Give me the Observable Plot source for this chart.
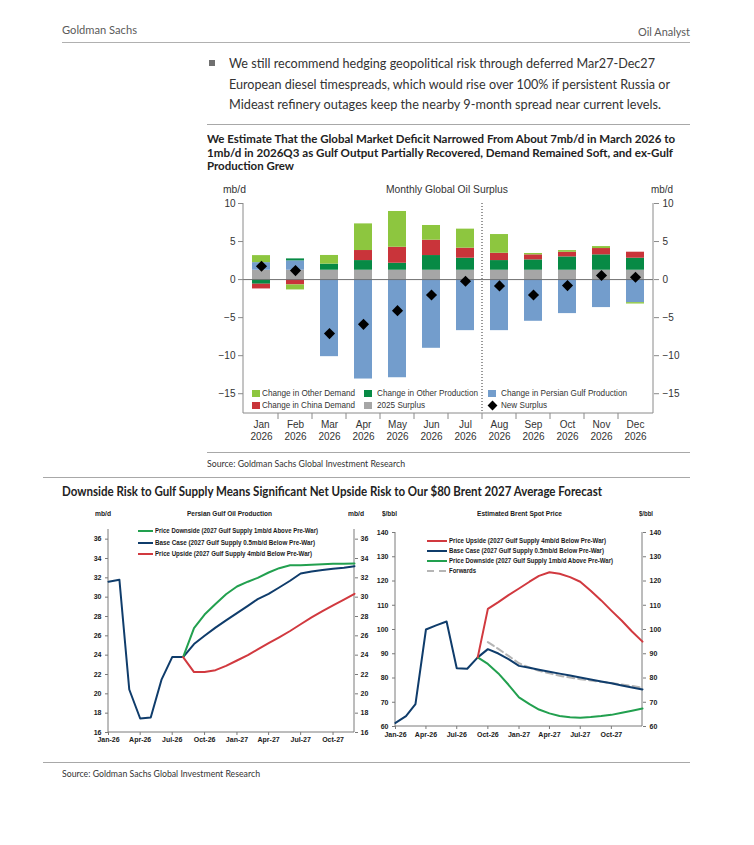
<!DOCTYPE html>
<html><head><meta charset="utf-8">
<script src="https://cdn.jsdelivr.net/npm/d3@7"></script>
<script src="https://cdn.jsdelivr.net/npm/@observablehq/plot@0.6"></script>
<style>
html,body{margin:0;padding:0;background:#fff;}
#page{position:relative;width:754px;height:845px;overflow:hidden;background:#fff;}
#page svg{position:absolute;overflow:visible;}
.hl{position:absolute;height:0;}
</style></head>
<body><div id="page"></div>
<script>
// ---------- Top chart: Monthly Global Oil Surplus (mb/d) ----------
const months = ["Jan 2026","Feb 2026","Mar 2026","Apr 2026","May 2026","Jun 2026","Jul 2026","Aug 2026","Sep 2026","Oct 2026","Nov 2026","Dec 2026"];
const seriesNames = ["2025 Surplus","Change in Persian Gulf Production","Change in Other Production","Change in China Demand","Change in Other Demand"];
const seriesColors = ["#a6a6a6","#739dcc","#078a45","#c9343a","#8dc63f"];
const surplus2025 = [1.23,1.23,1.23,1.23,1.23,1.23,1.23,1.23,1.23,1.23,1.23,1.23];
const gulfProd    = [1.0,1.23,-10.13,-13.07,-12.9,-9.03,-6.71,-6.71,-5.48,-4.47,-3.68,-3.03];
const otherProd   = [-0.61,0.26,0.8,1.27,0.92,1.93,1.58,1.27,1.36,1.75,2.02,1.58];
const chinaDemand = [-0.62,-0.7,0,1.32,2.1,2.02,1.32,0.96,0.66,0.61,0.83,0.79];
const otherDemand = [0.92,-0.66,1.14,3.5,4.7,1.93,2.5,2.46,0.18,0.22,0.26,-0.18];
const newSurplus  = [1.75,1.18,-7.1,-5.88,-4.08,-2.02,-0.22,-0.83,-2.02,-0.79,0.53,0.31];
const topTicks = [-15,-10,-5,0,5,10];
const dividerAfter = "Jul 2026";

// ---------- Bottom left: Persian Gulf Oil Production (mb/d), Jan-26 .. Dec-27 ----------
const gulfBase     = [31.6,31.8,20.45,17.45,17.55,21.5,23.8,23.8,25.15,26.0,26.85,27.6,28.35,29.1,29.8,30.35,31.0,31.7,32.45,32.65,32.8,32.95,33.05,33.2];
const gulfDownside = [null,null,null,null,null,null,null,23.8,26.8,28.2,29.3,30.3,31.1,31.6,32.0,32.55,33.0,33.3,33.3,33.35,33.4,33.45,33.45,33.48];
const gulfUpside   = [null,null,null,null,null,null,null,23.8,22.25,22.25,22.45,22.9,23.45,24.0,24.6,25.25,25.85,26.5,27.2,27.9,28.55,29.15,29.75,30.35];
const gulfTicks = [16,18,20,22,24,26,28,30,32,34,36];

// ---------- Bottom right: Estimated Brent Spot Price ($/bbl), Jan-26 .. Jan-28 ----------
const brentBase     = [61.5,64.3,69.2,100.0,101.7,103.3,84.0,83.8,88.5,91.9,90.1,87.8,85.0,84.2,83.4,82.6,81.8,81.0,80.2,79.4,78.6,77.8,76.9,76.1,75.3];
const brentUpside   = [null,null,null,null,null,null,null,null,88.5,108.5,111.3,114.2,116.9,119.7,122.1,123.6,123.0,121.6,119.7,116.0,112.0,107.8,103.6,99.2,95.0];
const brentDownside = [null,null,null,null,null,null,null,null,88.5,85.8,81.9,77.2,72.0,69.2,67.0,65.4,64.3,63.8,63.6,63.9,64.3,64.8,65.7,66.5,67.4];
const brentForwards = [null,null,null,null,null,null,null,null,null,94.8,92.0,89.1,86.1,84.3,83.0,81.9,80.9,80.2,79.5,79.0,78.4,77.9,77.3,76.7,76.0];
const brentTicks = [60,70,80,90,100,110,120,130,140];

const NAVY = "#0f3c6b", GREEN = "#22a04f", RED = "#d1393f", FWD = "#b5b5b5";

const page = document.getElementById("page");
const LAT = "Lato, 'Open Sans', sans-serif";
const ARI = "'Liberation Sans', Arial, sans-serif";

function place(text, x, y, w, o = {}) {
  const size = o.size || 12;
  const d = document.createElement("div");
  d.textContent = text;
  Object.assign(d.style, {
    position: "absolute", whiteSpace: "nowrap", left: x + "px", top: (y - size * 0.5) + "px",
    fontSize: size + "px", lineHeight: size + "px", fontWeight: o.weight || 400,
    color: o.color || "#333", fontFamily: o.family || LAT, transformOrigin: "0 50%"
  });
  page.appendChild(d);
  if (w) {
    const nw = d.getBoundingClientRect().width;
    if (nw > 0) d.style.transform = `scaleX(${w / nw})`;
  }
  return d;
}
function hline(x1, x2, y, color, wdt) {
  const d = document.createElement("div");
  d.className = "hl";
  Object.assign(d.style, {left: x1 + "px", width: (x2 - x1) + "px", top: (y - wdt / 2) + "px", borderTop: `${wdt}px solid ${color}`});
  page.appendChild(d);
}
function box(x, y, w, h, color, rot) {
  const d = document.createElement("div");
  Object.assign(d.style, {position: "absolute", left: x + "px", top: y + "px", width: w + "px", height: h + "px", background: color});
  if (rot) d.style.transform = `rotate(${rot}deg)`;
  page.appendChild(d);
}
function lineSample(x1, x2, y, color, dash) {
  const s = d3.create("svg").attr("width", x2 - x1).attr("height", 4)
    .style("left", x1 + "px").style("top", (y - 2) + "px");
  s.append("line").attr("x1", 0).attr("x2", x2 - x1).attr("y1", 2).attr("y2", 2)
    .attr("stroke", color).attr("stroke-width", 2).attr("stroke-dasharray", dash || null);
  page.appendChild(s.node());
}

// ---------- Header ----------
place("Goldman Sachs", 62, 30, 75, {size: 11.5, color: "#5a5a5a"});
place("Oil Analyst", 638, 32, 52, {size: 11.5, color: "#5a5a5a"});
hline(62, 690, 43, "#b0b0b0", 1.5);
box(209, 60, 6, 6, "#707070");
place("We still recommend hedging geopolitical risk through deferred Mar27-Dec27", 229, 63, 426, {size: 13, color: "#333"});
place("European diesel timespreads, which would rise over 100% if persistent Russia or", 229, 84, 441, {size: 13, color: "#333"});
place("Mideast refinery outages keep the nearby 9-month spread near current levels.", 229, 104, 432, {size: 13, color: "#333"});

// ---------- Top chart title ----------
hline(207, 690, 125, "#a8a8a8", 1.5);
place("We Estimate That the Global Market Deficit Narrowed From About 7mb/d in March 2026 to", 207, 139, 468, {size: 12, weight: 700, color: "#222"});
place("1mb/d in 2026Q3 as Gulf Output Partially Recovered, Demand Remained Soft, and ex-Gulf", 207, 152.5, 466, {size: 12, weight: 700, color: "#222"});
place("Production Grew", 207, 166, 87, {size: 12, weight: 700, color: "#222"});
place("mb/d", 223, 190, 23, {size: 10, family: ARI, color: "#333"});
place("Monthly Global Oil Surplus", 386, 190, 122, {size: 10.3, family: ARI, color: "#333"});
place("mb/d", 651, 190, 22, {size: 10, family: ARI, color: "#333"});

// ---------- Top chart ----------
const rows = [];
[surplus2025, gulfProd, otherProd, chinaDemand, otherDemand].forEach((arr, s) =>
  arr.forEach((v, i) => rows.push({month: months[i], series: seriesNames[s], value: v})));
const dots = months.map((m, i) => ({month: m, v: newSurplus[i]}));

function topFrame(index, scales, values, dims) {
  const {width, height, marginLeft: l, marginRight: r, marginTop: t, marginBottom: b} = dims;
  const x = scales.x;
  const bw = x.bandwidth ? x.bandwidth() : 0;
  const step = x.step ? x.step() : (x(months[1]) - x(months[0]));
  const g = d3.create("svg:g").attr("fill", "none");
  g.append("path").attr("stroke", "#8a8a8a").attr("d", `M${l},${t}V${height - b}H${width - r}V${t}`);
  months.slice(0, -1).forEach(m => {
    const xb = x(m) + bw / 2 + step / 2;
    g.append("line").attr("x1", xb).attr("x2", xb).attr("y1", height - b).attr("y2", height - b + 6).attr("stroke", "#8a8a8a");
  });
  const xd = x(dividerAfter) + bw / 2 + step / 2;
  g.append("line").attr("x1", xd).attr("x2", xd).attr("y1", t).attr("y2", height - b)
    .attr("stroke", "#333").attr("stroke-dasharray", "1,2");
  return g.node();
}

const topPlot = Plot.plot({
  width: 490, height: 250, marginLeft: 43, marginRight: 37, marginTop: 8, marginBottom: 32,
  style: {fontFamily: ARI, fontSize: "10px", color: "#333", background: "transparent", overflow: "visible"},
  x: {domain: months, paddingInner: 0.46, paddingOuter: 0.23, axis: null},
  y: {domain: [-17.6, 10], axis: null},
  color: {domain: seriesNames, range: seriesColors},
  marks: [
    Plot.barY(rows, {x: "month", y: "value", fill: "series"}),
    Plot.ruleY([0], {stroke: "#707070", strokeWidth: 1}),
    Plot.dot(dots, {x: "month", y: "v", symbol: "diamond2", r: 5, fill: "#000", stroke: "none"}),
    Plot.axisY({anchor: "left", ticks: topTicks, tickSize: 5, tickPadding: 3, label: null, stroke: "#8a8a8a", fill: "#333"}),
    Plot.axisY({anchor: "right", ticks: topTicks, tickSize: 5, tickPadding: 4, label: null, stroke: "#8a8a8a", fill: "#333"}),
    Plot.text(months, {x: d => d, frameAnchor: "bottom", text: d => d.replace(" ", "\n"), lineAnchor: "top", dy: 6, lineHeight: 1.2, fontSize: 10, fill: "#333"}),
    topFrame
  ]
});
topPlot.style.left = "200px"; topPlot.style.top = "195px";
page.appendChild(topPlot);

// legend for top chart
const lg = [
  [252, 393, 4, "Change in Other Demand", 262, 93],
  [364, 393, 2, "Change in Other Production", 377, 101],
  [488, 393, 1, "Change in Persian Gulf Production", 501, 126],
  [252, 405, 3, "Change in China Demand", 262, 93],
  [364, 405, 0, "2025 Surplus", 377, 48]
];
lg.forEach(([sx, y, ci, label, tx, tw]) => {
  box(sx, y - 3.5, 8, 7, seriesColors[ci]);
  place(label, tx, y, tw, {size: 8.6, family: ARI, color: "#333"});
});
box(488.5, 401.5, 7, 7, "#000", 45);
place("New Surplus", 501, 405, 46, {size: 8.6, family: ARI, color: "#333"});

hline(207, 690, 453, "#a8a8a8", 1.5);
place("Source: Goldman Sachs Global Investment Research", 207, 463, 198, {size: 9, color: "#333"});

// ---------- Bottom section ----------
hline(43, 690, 478, "#a8a8a8", 1.5);
place("Downside Risk to Gulf Supply Means Significant Net Upside Risk to Our $80 Brent 2027 Average Forecast", 62, 492, 540, {size: 12.5, weight: 700, color: "#222"});

const B = {size: 6.8, weight: 700, family: ARI, color: "#1a1a1a"};
place("mb/d", 95, 514, 16, B);
place("Persian Gulf Oil Production", 187, 514, 85, B);
place("mb/d", 348, 514, 16, B);
place("$/bbl", 382, 514, 15, B);
place("Estimated Brent Spot Price", 477, 514, 85, B);
place("$/bbl", 639, 514, 14, B);

function simpleFrame(index, scales, values, dims) {
  const {width, height, marginLeft: l, marginRight: r, marginTop: t, marginBottom: b} = dims;
  return d3.create("svg:path").attr("fill", "none").attr("stroke", "#7a7a7a")
    .attr("d", `M${l},${t}V${height - b}H${width - r}V${t}`).node();
}

const gulfDates = gulfBase.map((_, i) => new Date(Date.UTC(2026, i, 1)));
const brentDates = brentBase.map((_, i) => new Date(Date.UTC(2026, i, 1)));
const qTicks = brentDates.filter(d => d.getUTCMonth() % 3 === 0 && d < new Date(Date.UTC(2028, 0, 1)));
const fmt = d3.utcFormat("%b-%y");
const ser = (dates, arr) => arr.map((v, i) => ({date: dates[i], v}));
const bstyle = {fontFamily: ARI, fontSize: "7px", fontWeight: "bold", color: "#1a1a1a", background: "transparent", overflow: "visible"};

const leftPlot = Plot.plot({
  width: 300, height: 230, marginLeft: 28, marginRight: 26, marginTop: 9, marginBottom: 18,
  style: bstyle,
  x: {type: "utc", domain: [gulfDates[0], gulfDates[23]], axis: null},
  y: {domain: [16, 37], axis: null},
  marks: [
    simpleFrame,
    Plot.axisY({anchor: "left", ticks: gulfTicks, tickSize: 3, tickPadding: 4, label: null, stroke: "#7a7a7a", fill: "#1a1a1a"}),
    Plot.axisY({anchor: "right", ticks: gulfTicks, tickSize: 3, tickPadding: 3, label: null, stroke: "#7a7a7a", fill: "#1a1a1a"}),
    Plot.axisX({ticks: qTicks.filter(d => d <= gulfDates[23]), tickFormat: fmt, tickSize: 3, tickPadding: 2, label: null, stroke: "#7a7a7a", fill: "#1a1a1a"}),
    Plot.line(ser(gulfDates, gulfBase), {x: "date", y: "v", stroke: NAVY, strokeWidth: 2}),
    Plot.line(ser(gulfDates, gulfDownside), {x: "date", y: "v", stroke: GREEN, strokeWidth: 2}),
    Plot.line(ser(gulfDates, gulfUpside), {x: "date", y: "v", stroke: RED, strokeWidth: 2})
  ]
});
leftPlot.style.left = "80px"; leftPlot.style.top = "520px";
page.appendChild(leftPlot);

const rightPlot = Plot.plot({
  width: 290, height: 230, marginLeft: 25, marginRight: 18, marginTop: 12, marginBottom: 24,
  style: bstyle,
  x: {type: "utc", domain: [brentDates[0], brentDates[24]], axis: null},
  y: {domain: [60, 140], axis: null},
  marks: [
    simpleFrame,
    Plot.axisY({anchor: "left", ticks: brentTicks, tickSize: 3, tickPadding: 4, label: null, stroke: "#7a7a7a", fill: "#1a1a1a"}),
    Plot.axisY({anchor: "right", ticks: brentTicks, tickSize: 3, tickPadding: 4, label: null, stroke: "#7a7a7a", fill: "#1a1a1a"}),
    Plot.axisX({ticks: qTicks, tickFormat: fmt, tickSize: 3, tickPadding: 3, label: null, stroke: "#7a7a7a", fill: "#1a1a1a"}),
    Plot.line(ser(brentDates, brentForwards), {x: "date", y: "v", stroke: FWD, strokeWidth: 2, strokeDasharray: "7,4"}),
    Plot.line(ser(brentDates, brentBase), {x: "date", y: "v", stroke: NAVY, strokeWidth: 2}),
    Plot.line(ser(brentDates, brentDownside), {x: "date", y: "v", stroke: GREEN, strokeWidth: 2}),
    Plot.line(ser(brentDates, brentUpside), {x: "date", y: "v", stroke: RED, strokeWidth: 2})
  ]
});
rightPlot.style.left = "370px"; rightPlot.style.top = "520px";
page.appendChild(rightPlot);

// legends bottom
const LB = {size: 6.3, weight: 700, family: ARI, color: "#1a1a1a"};
lineSample(138, 153, 531, GREEN); place("Price Downside (2027 Gulf Supply 1mb/d Above Pre-War)", 155, 531, 163, LB);
lineSample(138, 153, 542.7, NAVY); place("Base Case (2027 Gulf Supply 0.5mb/d Below Pre-War)", 155, 542.7, 160, LB);
lineSample(138, 153, 554.3, RED); place("Price Upside (2027 Gulf Supply  4mb/d Below Pre-War)", 155, 554.3, 157, LB);

lineSample(427, 447, 540.7, RED); place("Price Upside (2027 Gulf Supply  4mb/d Below Pre-War)", 449, 540.7, 157, LB);
lineSample(427, 447, 550.7, NAVY); place("Base Case (2027 Gulf Supply 0.5mb/d Below Pre-War)", 449, 550.7, 155, LB);
lineSample(427, 447, 560.7, GREEN); place("Price Downside (2027 Gulf Supply 1mb/d Above Pre-War)", 449, 560.7, 164, LB);
lineSample(427, 447, 570.7, FWD, "7,5"); place("Forwards", 449, 570.7, 27, LB);

hline(43, 690, 763, "#a8a8a8", 1.5);
place("Source: Goldman Sachs Global Investment Research", 62, 773, 198, {size: 9, color: "#333"});
</script>
</body></html>
